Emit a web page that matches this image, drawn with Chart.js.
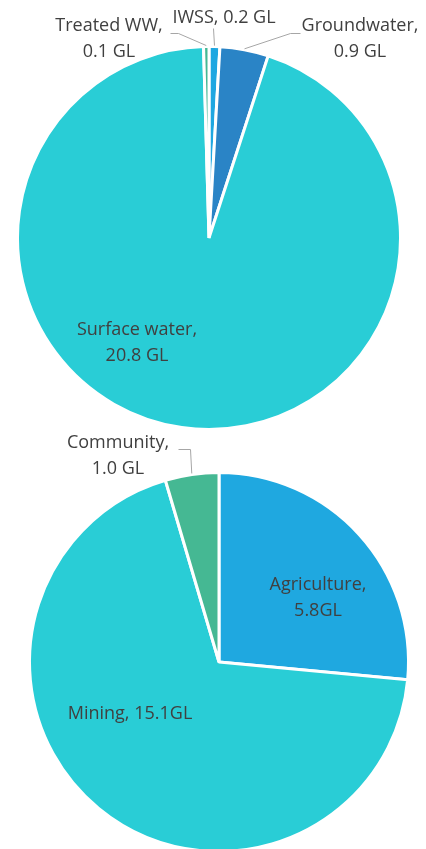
<!DOCTYPE html>
<html>
<head>
<meta charset="utf-8">
<script src="https://cdn.jsdelivr.net/npm/chart.js@4.4.1/dist/chart.umd.min.js"></script>
<style>
  html, body { margin: 0; padding: 0; background: #fff; overflow: hidden; }
  body { width: 426px; height: 849px; position: relative; }
  canvas { position: absolute; left: 0; }
  #sources-pie { top: 0; }
  #uses-pie { top: 420px; }
</style>
</head>
<body>
<canvas id="sources-pie" width="426" height="432"></canvas>
<canvas id="uses-pie" width="426" height="440"></canvas>
<script>
// water sources (GL)
const sourceNames = ['IWSS', 'Groundwater', 'Surface water', 'Treated WW'];
const sourceValues = [0.2, 0.9, 20.8, 0.1];
const sourceColours = ['#1ea7e1', '#2a84c6', '#29cdd6', '#45b894'];
const sourceLabels = [
    ['IWSS, 0.2 GL'],
    ['Groundwater,', '0.9 GL'],
    ['Surface water,', '20.8 GL'],
    ['Treated WW,', '0.1 GL']
];

// water uses (GL)
const useNames = ['Agriculture', 'Mining', 'Community'];
const useValues = [5.8, 15.1, 1.0];
const useColours = ['#1fa8e0', '#29cdd6', '#45b893'];
const useLabels = [
    ['Agriculture,', '5.8GL'],
    ['Mining, 15.1GL'],
    ['Community,', '1.0 GL']
];

const FONT = '18px "Open Sans", "Noto Sans", sans-serif';
const TEXT_COLOUR = '#404040';
const LINE_COLOUR = '#a6a6a6';

// label placement per slice: text centre (x,y) on canvas, optional leader bend/end
const sourcePlace = [
    { x: 224, y: 18, leader: [[213, 28]] },
    { x: 360, y: 26, leader: [[290, 33], [300, 33]] },
    { x: 137, y: 330 },
    { x: 109, y: 26, leader: [[178, 33], [170, 33]] }
];
const usePlace = [
    { x: 318, y: 165 },
    { x: 130, y: 294 },
    { x: 118, y: 23, leader: [[190, 29], [178, 29]] }
];

const sliceLabels = {
    id: 'sliceLabels',
    afterDraw(chart, args, opts) {
        const c = chart.ctx;
        const arcs = chart.getDatasetMeta(0).data;
        c.save();
        c.font = FONT;
        c.fillStyle = TEXT_COLOUR;
        c.textAlign = 'center';
        c.textBaseline = 'middle';
        arcs.forEach((arc, i) => {
            const p = opts.place[i];
            const lines = opts.text[i];
            if (p.leader) {
                const { x, y, startAngle, endAngle, outerRadius } = arc.getProps(['x', 'y', 'startAngle', 'endAngle', 'outerRadius'], true);
                const mid = (startAngle + endAngle) / 2;
                c.beginPath();
                c.strokeStyle = LINE_COLOUR;
                c.lineWidth = 1;
                c.moveTo(x + Math.cos(mid) * (outerRadius + 1), y + Math.sin(mid) * (outerRadius + 1));
                p.leader.forEach(pt => c.lineTo(pt[0] + 0.5, pt[1] + 0.5));
                c.stroke();
            }
            const lh = 26;
            lines.forEach((t, k) => {
                c.fillText(t, p.x, p.y + k * lh);
            });
        });
        c.restore();
    }
};

function makePie(id, names, values, colours, text, place, padding) {
    return new Chart(document.getElementById(id), {
        type: 'pie',
        data: {
            labels: names,
            datasets: [{
                data: values,
                backgroundColor: colours,
                borderColor: '#ffffff',
                borderWidth: 3
            }]
        },
        options: {
            responsive: false,
            animation: false,
            devicePixelRatio: 1,
            events: [],
            layout: { padding: padding },
            plugins: {
                legend: { display: false },
                tooltip: { enabled: false },
                sliceLabels: { text: text, place: place }
            }
        },
        plugins: [sliceLabels]
    });
}

makePie('sources-pie', sourceNames, sourceValues, sourceColours, sourceLabels, sourcePlace,
    { left: 16, right: 24, top: 45, bottom: 1 });
makePie('uses-pie', useNames, useValues, useColours, useLabels, usePlace,
    { left: 28, right: 16, top: 51, bottom: 7 });
</script>
</body>
</html>
